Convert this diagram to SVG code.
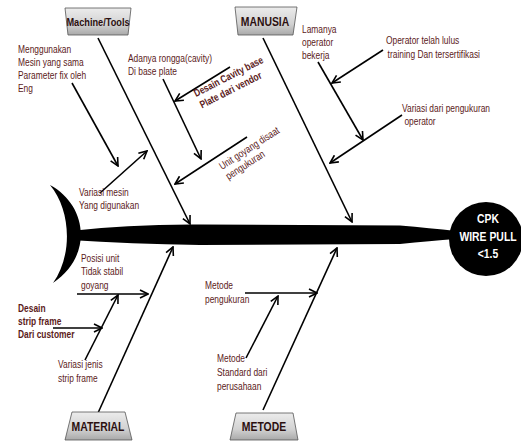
<svg xmlns="http://www.w3.org/2000/svg" width="521" height="441" viewBox="0 0 521 441">
<style>
.t{font-family:"Liberation Sans",Arial,sans-serif;font-size:10.5px;fill:#5b1a1a}
.b{font-weight:bold}
.lbl{font-family:"Liberation Sans",Arial,sans-serif;font-size:13px;font-weight:bold;fill:#2b0f0f;text-anchor:middle}
.box{fill:url(#g);stroke:#555;stroke-width:0.8}
.c{stroke:#000;stroke-width:1.6;fill:none;marker-end:url(#a)}
.h{font-family:"Liberation Sans",Arial,sans-serif;font-size:13px;font-weight:bold;fill:#fff;text-anchor:middle}
</style>
<defs>
<linearGradient id="g" x1="0" y1="0" x2="0" y2="1">
<stop offset="0" stop-color="#ececec"/>
<stop offset="0.6" stop-color="#d2d2d2"/>
<stop offset="1" stop-color="#a9a9a9"/>
</linearGradient>
<marker id="a" viewBox="0 0 10 10" refX="9" refY="5" markerWidth="10" markerHeight="10" markerUnits="userSpaceOnUse" orient="auto">
<path d="M1,1 L9,5 L1,9" fill="none" stroke="#000" stroke-width="1.6"/>
</marker>
</defs>
<rect width="521" height="441" fill="#fff"/>

<g id="fish">
<path d="M50,185 C87,205 94,255 53,283 C73,255 71,210 50,185 Z" fill="#000"/>
<path d="M70,231 Q130,224 200,224.5 L400,225.5 Q430,228 456,231 L456,239 Q430,241 400,244 L200,245 Q130,244 70,240 Z" fill="#000"/>
</g>

<g id="connectors">
<line class="c" x1="98" y1="38" x2="190" y2="224"/>
<line class="c" x1="263" y1="38" x2="352" y2="222"/>
<line class="c" x1="98" y1="413" x2="173" y2="247"/>
<line class="c" x1="263" y1="410" x2="337" y2="248"/>
<line class="c" x1="72" y1="83" x2="118" y2="166"/>
<line class="c" x1="100" y1="193" x2="147" y2="151"/>
<line class="c" x1="163" y1="79" x2="201" y2="159"/>
<line class="c" x1="230" y1="67" x2="175" y2="101"/>
<line class="c" x1="247" y1="137" x2="175" y2="184"/>
<line class="c" x1="318" y1="62" x2="363" y2="140"/>
<line class="c" x1="383" y1="50" x2="332" y2="83"/>
<line class="c" x1="402" y1="115" x2="330" y2="163"/>
<line class="c" x1="77" y1="294" x2="148" y2="294"/>
<line class="c" x1="85" y1="360" x2="118" y2="295"/>
<line class="c" x1="53" y1="328" x2="102" y2="328"/>
<line class="c" x1="245" y1="293" x2="317" y2="293"/>
<line class="c" x1="246" y1="358" x2="278" y2="296"/>
</g>

<g id="machine">
<path class="box" d="M65,8 L131,8 L128,35 L68,35 Z"/>
<text class="lbl" transform="translate(98,26) scale(0.8,1)" style="font-size:11.5px">Machine/Tools</text>
</g>
<g id="manusia">
<path class="box" d="M235,7 L297,7 L293,35 L238,35 Z"/>
<text class="lbl" transform="translate(265,26) scale(0.8,1)">MANUSIA</text>
</g>
<g id="material">
<path class="box" d="M72,412 L125,412 L132,440 L65,440 Z"/>
<text class="lbl" transform="translate(98,431) scale(0.8,1)">MATERIAL</text>
</g>
<g id="metode">
<path class="box" d="M236,413 L293,413 L298,440 L230,440 Z"/>
<text class="lbl" transform="translate(264,431) scale(0.8,1)">METODE</text>
</g>
<g id="effect">
<circle cx="486" cy="239" r="37" fill="#000"/>
<g transform="translate(488,0) scale(0.8,1)">
<text class="h" x="0" y="223">CPK</text>
<text class="h" x="0" y="241">WIRE PULL</text>
<text class="h" x="0" y="258">&lt;1.5</text>
</g>
</g>

<g id="c-menggunakan" transform="translate(18,53) scale(0.8,1)"><text class="t" y="0">Menggunakan</text><text class="t" y="13">Mesin yang sama</text><text class="t" y="26">Parameter fix oleh</text><text class="t" y="39">Eng</text></g>
<g id="c-adanya" transform="translate(128,62) scale(0.8,1)"><text class="t" y="0">Adanya rongga(cavity)</text><text class="t" y="13">Di base plate</text></g>
<g id="c-desain-cavity" transform="translate(196,97) rotate(-27) scale(0.8,1)"><text class="t b" y="0">Desain Cavity base</text><text class="t b" y="13">Plate dari vendor</text></g>
<g id="c-unit" transform="translate(222,170) rotate(-33) scale(0.8,1)"><text class="t" y="0">Unit goyang disaat</text><text class="t" y="12">pengukuran</text></g>
<g id="c-variasi-mesin" transform="translate(79,196) scale(0.8,1)"><text class="t" y="0">Variasi mesin</text><text class="t" y="13">Yang digunakan</text></g>
<g id="c-lamanya" transform="translate(302,33) scale(0.8,1)"><text class="t" y="0">Lamanya</text><text class="t" y="13">operator</text><text class="t" y="26">bekerja</text></g>
<g id="c-operator" transform="translate(386,44) scale(0.8,1)"><text class="t" y="0">Operator telah lulus</text><text class="t" x="2" y="14">training Dan tersertifikasi</text></g>
<g id="c-variasi-dari" transform="translate(402,112) scale(0.8,1)"><text class="t" y="0">Variasi dari pengukuran</text><text class="t" x="3" y="13">operator</text></g>
<g id="c-posisi" transform="translate(81,262) scale(0.8,1)"><text class="t" y="0">Posisi unit</text><text class="t" y="13">Tidak stabil</text><text class="t" y="27">goyang</text></g>
<g id="c-desain-strip" transform="translate(18,312) scale(0.8,1)"><text class="t b" y="0">Desain</text><text class="t b" y="13">strip frame</text><text class="t b" y="26">Dari customer</text></g>
<g id="c-variasi-jenis" transform="translate(58,368) scale(0.8,1)"><text class="t" y="0">Variasi jenis</text><text class="t" y="14">strip frame</text></g>
<g id="c-metode-peng" transform="translate(205,289) scale(0.8,1)"><text class="t" y="0">Metode</text><text class="t" y="14">pengukuran</text></g>
<g id="c-metode-std" transform="translate(217,362) scale(0.8,1)"><text class="t" y="0">Metode</text><text class="t" y="14">Standard dari</text><text class="t" y="28">perusahaan</text></g>
</svg>
